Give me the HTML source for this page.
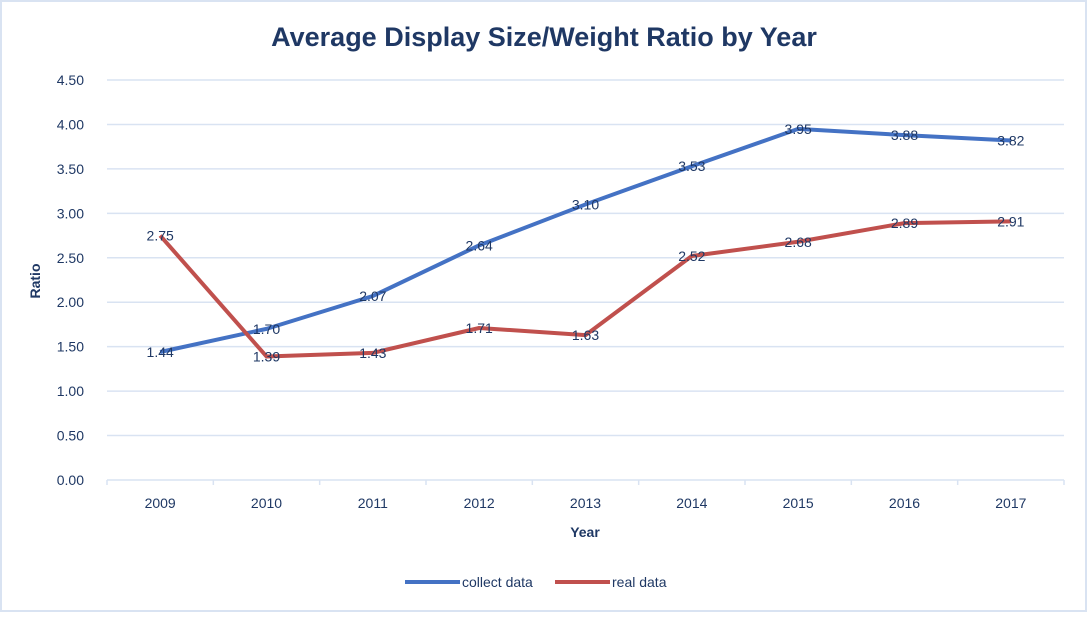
<!DOCTYPE html>
<html><head><meta charset="utf-8"><style>
body{margin:0;background:#fff;}
svg text{font-family:"Liberation Sans",sans-serif;fill:#1F3864;}
</style></head><body>
<svg width="1088" height="614">
<rect x="1" y="1" width="1085" height="610" fill="#fff" stroke="#D9E3F2" stroke-width="2"/>
<text x="544" y="46" text-anchor="middle" font-size="27" font-weight="bold">Average Display Size/Weight Ratio by Year</text>
<g id="grid"></g><g id="axes"></g><g id="series"></g><g id="labels"></g>
<text x="40" y="281" text-anchor="middle" font-size="14" font-weight="bold" transform="rotate(-90 40 281)">Ratio</text>
<text x="585" y="537" text-anchor="middle" font-size="14" font-weight="bold">Year</text>
<g>
<g><line x1="405" y1="582" x2="460" y2="582" stroke="#4472C4" stroke-width="4"/><text x="462" y="587" font-size="14">collect data</text></g>
<g><line x1="555" y1="582" x2="610" y2="582" stroke="#C0504D" stroke-width="4"/><text x="612" y="587" font-size="14">real data</text></g>
</g>
</svg>
<script>
const categories=["2009","2010","2011","2012","2013","2014","2015","2016","2017"];
const collectData=[1.44,1.70,2.07,2.64,3.10,3.53,3.95,3.88,3.82];
const realData=[2.75,1.39,1.43,1.71,1.63,2.52,2.68,2.89,2.91];
const yTicks=[0,0.5,1,1.5,2,2.5,3,3.5,4,4.5];
const NS="http://www.w3.org/2000/svg";
const L=107,R=1064,T=80,B=480,YMAX=4.5;
const bw=(R-L)/categories.length;
function x(i){return L+bw*(i+0.5);}
function y(v){return B-(v/YMAX)*(B-T);}
function mk(tag,a,p){const e=document.createElementNS(NS,tag);for(const k in a)e.setAttribute(k,a[k]);p.appendChild(e);return e;}
const grid=document.getElementById('grid'),axes=document.getElementById('axes'),ser=document.getElementById('series'),lab=document.getElementById('labels');
yTicks.forEach(t=>{
 if(t>0){const g=mk('line',{x1:L,x2:R,y1:y(t),y2:y(t),stroke:'#D9E3F2','stroke-width':1.5},grid);
 
 }
 const tx=mk('text',{x:84,y:y(t)+5,'text-anchor':'end','font-size':14},axes);tx.textContent=t.toFixed(2);
 
 
});
const ax=mk('line',{x1:L,x2:R,y1:B,y2:B,stroke:'#D9E3F2','stroke-width':1.5},axes);


for(let i=0;i<=categories.length;i++){mk('line',{x1:L+bw*i,x2:L+bw*i,y1:B,y2:B+5,stroke:'#D9E3F2','stroke-width':1.5},axes);}
categories.forEach((c,i)=>{const t=mk('text',{x:x(i),y:B+28,'text-anchor':'middle','font-size':14},axes);t.textContent=c;
 
 });
function draw(data,color,name){
 const p=mk('polyline',{points:data.map((v,i)=>x(i)+','+y(v)).join(' '),fill:'none',stroke:color,'stroke-width':4,'stroke-linejoin':'round'},ser);
 
 
 data.forEach((v,i)=>{const t=mk('text',{x:x(i),y:y(v)+5,'text-anchor':'middle','font-size':14},lab);t.textContent=v.toFixed(2);
  
  });
}
draw(collectData,'#4472C4','collect-data');
draw(realData,'#C0504D','real-data');
</script>
</body></html>
